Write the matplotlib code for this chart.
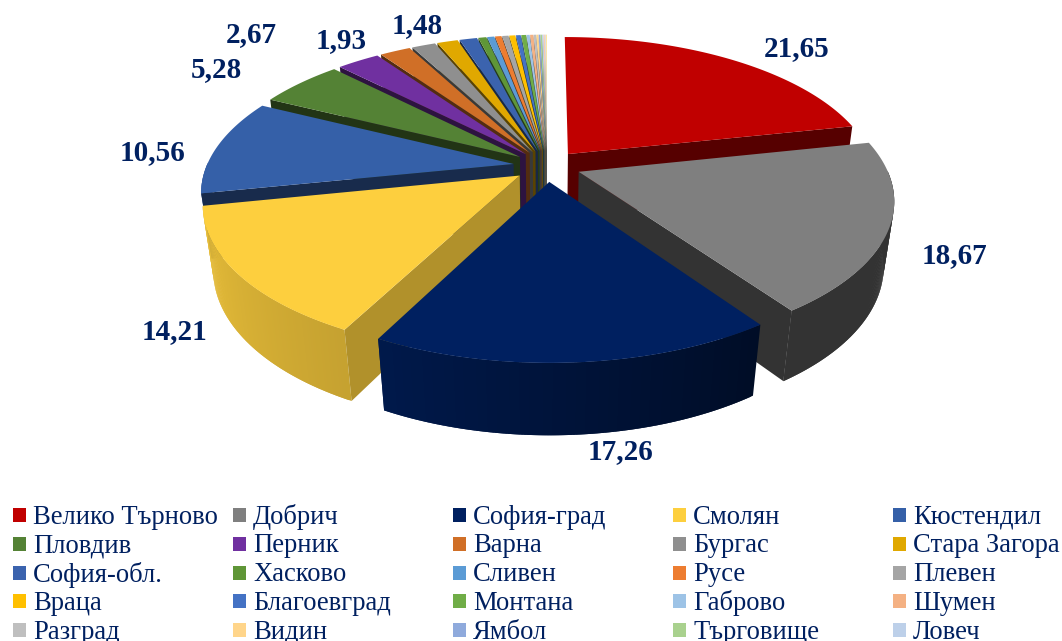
"""Exploded 3-D style pie of regional shares with a five-column legend."""

import matplotlib

matplotlib.use("Agg")
import matplotlib.pyplot as plt
import numpy as np
from matplotlib.patches import Polygon, Rectangle

plt.rcParams["font.family"] = ["Liberation Serif", "DejaVu Serif"]

names = [
    "Велико Търново", "Добрич", "София-град", "Смолян", "Кюстендил",
    "Пловдив", "Перник", "Варна", "Бургас", "Стара Загора",
    "София-обл.", "Хасково", "Сливен", "Русе", "Плевен",
    "Враца", "Благоевград", "Монтана", "Габрово", "Шумен",
    "Разград", "Видин", "Ямбол", "Търговище", "Ловеч",
]
values = [
    21.65, 18.67, 17.26, 14.21, 10.56, 5.28, 2.67, 1.93, 1.48, 1.30,
    1.10, 0.50, 0.45, 0.40, 0.40, 0.38, 0.30, 0.30, 0.20, 0.20,
    0.15, 0.13, 0.10, 0.10, 0.08,
]
# slices past the cropped legend rows
extra_values = [0.08, 0.06, 0.06]
colors = [
    "#C00000", "#7F7F7F", "#002060", "#FDCF3E", "#3560A8",
    "#548235", "#7030A0", "#D06F27", "#8F8F8F", "#E0A800",
    "#3B63AE", "#5F9637", "#5B9BD5", "#ED7D31", "#A5A5A5",
    "#FFC000", "#4472C4", "#70AD47", "#9DC3E6", "#F4B183",
    "#BFBFBF", "#FFD58A", "#8FAADC", "#A9D18E", "#BDD0E9",
]
extra_colors = ["#F8CBAD", "#DBDBDB", "#FFE699"]
label_text = ["21,65", "18,67", "17,26", "14,21", "10,56", "5,28", "2,67", "1,93", "1,48"]
label_pos = [(797, 49), (954, 256), (620, 452), (174, 332), (153, 153), (216, 70), (251, 35), (341, 41), (417, 26)]

NAVY = "#002060"
CX, CY = 547.0, 166.0
A, B = 307.0, 142.0
K, KZ = 0.18, 0.03
DEPTH = 66.0
EXPLODE = 0.11


def project(u, v, z=0.0):
    w = 1.0 + K * v + KZ * z
    return CX + A * u / w, CY - B * v / w + DEPTH * z / w


def shaded(color, f):
    rgb = np.array(matplotlib.colors.to_rgb(color))
    return tuple(rgb * f)


def rim_shade(theta):
    return np.interp(theta, [78, 145, 207, 258, 360], [0.4, 0.4, 0.78, 0.92, 0.92])


def side_shade(normal):
    return np.interp(normal % 360, [100, 117, 168, 206, 360], [0.7, 0.7, 0.45, 0.4, 0.4])


def draw_slice(ax, start, stop, color):
    mid = np.radians(0.5 * (start + stop))
    ou, ov = EXPLODE * np.sin(mid), EXPLODE * np.cos(mid)
    th = np.radians(np.linspace(start, stop, max(3, int(stop - start) * 2)))
    u = ou + np.sin(th)
    v = ov + np.cos(th)

    # outer wall in overlapping facets so the shading can run along it without seams
    for i in range(len(th) - 1):
        if np.cos(th[i]) > 0 and np.cos(th[i + 1]) > 0:
            continue
        j = min(i + 2, len(th) - 1)
        pts = [project(u[i], v[i]), project(u[j], v[j]), project(u[j], v[j], 1.0), project(u[i], v[i], 1.0)]
        ax.add_patch(Polygon(pts, closed=True, fc=shaded(color, rim_shade(np.degrees(th[i]))), ec="none", zorder=2))

    # radial walls, only those turned towards the viewer
    for edge, normal in ((0, start - 90), (-1, stop + 90)):
        if np.cos(np.radians(normal)) > 0:
            continue
        pts = [project(ou, ov), project(u[edge], v[edge]), project(u[edge], v[edge], 1.0), project(ou, ov, 1.0)]
        ax.add_patch(Polygon(pts, closed=True, fc=shaded(color, side_shade(normal)), ec="none", zorder=2))

    top = [project(ou, ov)] + [project(a, b) for a, b in zip(u, v)]
    ax.add_patch(Polygon(top, closed=True, fc=color, ec="none", zorder=2))


fig = plt.figure(figsize=(10.62, 6.41), dpi=100)
ax = fig.add_axes([0, 0, 1, 1])
ax.set_xlim(0, 1062)
ax.set_ylim(641, 0)
ax.axis("off")

all_values = np.array(values + extra_values)
all_colors = colors + extra_colors
edges = np.concatenate([[0.0], np.cumsum(all_values)]) / all_values.sum() * 360.0
order = np.argsort(-np.cos(np.radians(0.5 * (edges[:-1] + edges[1:]))))
for idx in order:
    draw_slice(ax, edges[idx], edges[idx + 1], all_colors[idx])

for text, (x, y) in zip(label_text, label_pos):
    ax.text(x, y, text, color=NAVY, fontsize=21, fontweight="bold", ha="center", va="center", zorder=5)

for i, (name, color) in enumerate(zip(names, colors)):
    row, col = divmod(i, 5)
    x = 13 + 220 * col
    y = 515 + 28.8 * row
    ax.add_patch(Rectangle((x, y - 7), 13, 14, fc=color, ec="none", zorder=5))
    ax.text(x + 20, y + 2, name, color=NAVY, fontsize=19.2, ha="left", va="center", zorder=5)

fig.savefig("out.png", dpi=100)
